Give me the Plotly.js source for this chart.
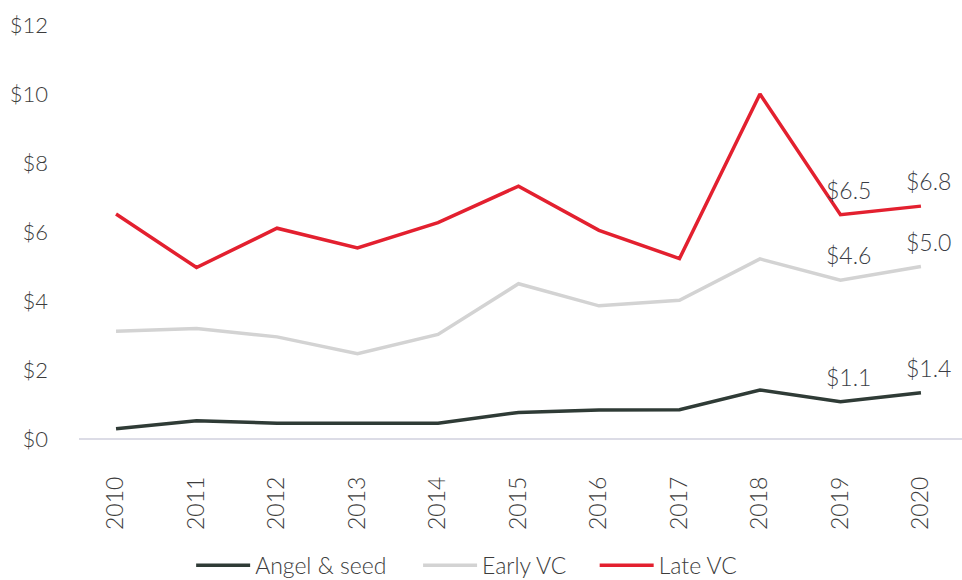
<!DOCTYPE html>
<html>
<head>
<meta charset="utf-8">
<script src="https://cdn.plot.ly/plotly-3.0.1.min.js"></script>
<style>html,body{margin:0;padding:0;background:#fff;}#chart{width:962px;height:580px;}</style>
</head>
<body>
<div id="chart"></div>
<script>
const years = ["2010","2011","2012","2013","2014","2015","2016","2017","2018","2019","2020"];
const angelSeed = [0.3, 0.53, 0.46, 0.46, 0.46, 0.77, 0.84, 0.85, 1.42, 1.08, 1.34];
const earlyVC   = [3.12, 3.2, 2.96, 2.47, 3.03, 4.5, 3.86, 4.02, 5.22, 4.6, 5.0];
const lateVC    = [6.52, 4.97, 6.11, 5.54, 6.27, 7.33, 6.05, 5.23, 10.0, 6.5, 6.75];
const angelLabels = ["","","","","","","","","","$1.1","$1.4"];
const earlyLabels = ["","","","","","","","","","$4.6","$5.0"];
const lateLabels  = ["","","","","","","","","","$6.5","$6.8"];
const seriesNames = ["Angel & seed", "Early VC", "Late VC"];
const yTickVals = [0,2,4,6,8,10,12];
const yTickText = ["$0","$2","$4","$6","$8","$10","$12"];

const fontFam = "Lato, 'Open Sans', sans-serif";
const txtColor = "#3c3c3c";
const colors = ["#2f3b36", "#d3d3d3", "#e3202f"];
const legendIds = ["legend", "legend2", "legend3"];
const legendX = [0.127, 0.384, 0.584];

const seriesVals = [angelSeed, earlyVC, lateVC];
const seriesLabels = [angelLabels, earlyLabels, lateLabels];

const data = seriesVals.map((y, i) => ({
  x: years, y: y, name: seriesNames[i], type: "scatter", mode: "lines",
  line: {color: colors[i], width: 3.5},
  legend: legendIds[i],
  cliponaxis: false, hoverinfo: "skip"
}));

const annotations = [];
seriesVals.forEach((vals, i) => {
  seriesLabels[i].forEach((lab, j) => {
    if (!lab) return;
    annotations.push({
      x: j, y: vals[j], xref: "x", yref: "y", text: lab,
      showarrow: false, xanchor: "center", yanchor: "middle",
      xshift: 8, yshift: 25,
      font: {family: fontFam, size: 23, color: "#3a3d45", weight: 300}
    });
  });
});

const legendBase = {
  orientation: "h", xanchor: "left", y: -0.305, yanchor: "middle",
  xref: "paper", yref: "paper", itemwidth: 54,
  font: {family: fontFam, size: 23, color: txtColor, weight: 300},
  bgcolor: "rgba(0,0,0,0)", itemclick: false
};

const layout = {
  width: 962, height: 580,
  margin: {l: 79, r: 0, t: 25, b: 141, autoexpand: false},
  paper_bgcolor: "#fff", plot_bgcolor: "#fff",
  font: {family: fontFam, size: 21, color: txtColor, weight: 300},
  showlegend: true,
  legend: Object.assign({}, legendBase, {x: legendX[0]}),
  legend2: Object.assign({}, legendBase, {x: legendX[1]}),
  legend3: Object.assign({}, legendBase, {x: legendX[2]}),
  annotations: annotations,
  xaxis: {
    type: "category", range: [-0.46, 10.51],
    showgrid: false, zeroline: false, showline: false, ticks: "",
    tickangle: -90, ticklabelstandoff: 32,
    tickfont: {family: fontFam, size: 23, color: txtColor, weight: 300}
  },
  yaxis: {
    range: [0, 12], tickvals: yTickVals, ticktext: yTickText,
    showgrid: false, zeroline: true, zerolinecolor: "#dcdce6", zerolinewidth: 1.5,
    showline: false, ticks: "", ticklabelstandoff: 30,
    tickfont: {family: fontFam, size: 22, color: txtColor, weight: 300}
  }
};

Plotly.newPlot("chart", data, layout, {displayModeBar: false, staticPlot: true});
</script>
</body>
</html>
